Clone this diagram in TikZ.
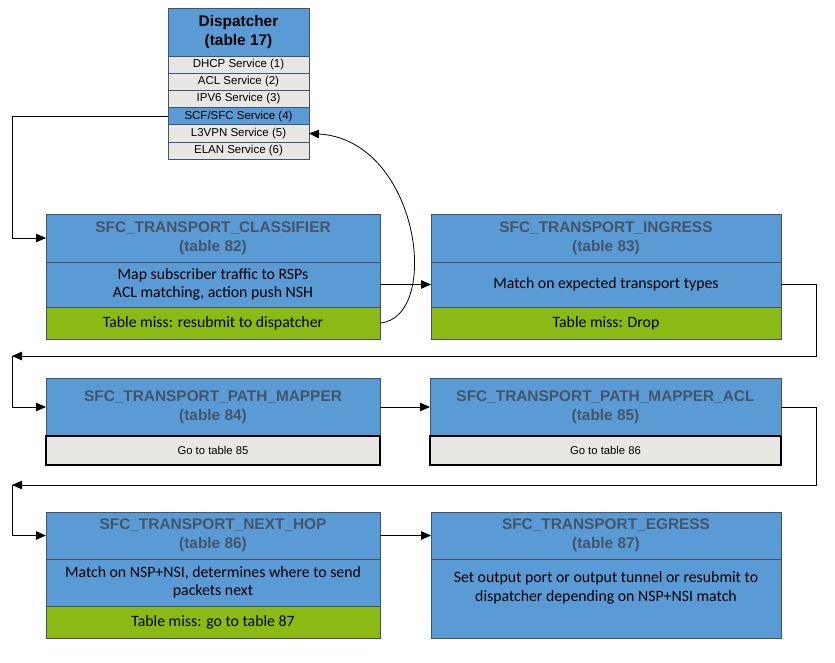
\documentclass[tikz,border=0pt]{standalone}
\usepackage{fontspec}
\setmainfont{Carlito}
\newfontfamily\arialfont{Liberation Sans}
\usetikzlibrary{positioning,arrows.meta}
\definecolor{tblblue}{HTML}{5B9BD5}
\definecolor{tbledge}{HTML}{41536B}
\definecolor{tbltitle}{HTML}{44546A}
\definecolor{tblgreen}{HTML}{8CBA15}
\definecolor{tblgray}{HTML}{E8E7E4}
\tikzset{
  part/.style={draw=tbledge, line width=1pt, inner sep=2pt, outer sep=0pt, align=center},
  hdr/.style={part, fill=tblblue, text=tbltitle, font=\arialfont\bfseries\fontsize{15.4}{19}\selectfont},
  act/.style={part, fill=tblblue, font=\fontsize{15.8}{18.5}\selectfont},
  miss/.style={part, fill=tblgreen, font=\fontsize{15.8}{18.5}\selectfont},
  goto/.style={part, draw=black, line width=1.5pt, fill=tblgray, font=\arialfont\fontsize{11.3}{13}\selectfont},
  svc/.style={part, fill=tblgray, minimum width=141, minimum height=17.2, font=\arialfont\fontsize{11.5}{13}\selectfont},
  flow/.style={line width=0.8pt, -{Triangle[length=10pt,width=8.5pt]}}
}
\begin{document}
\begin{tikzpicture}[x=1pt,y=-1pt]
    \useasboundingbox (0,0) rectangle (835,662);

    % dispatcher and its services
    \node[hdr, text=black, minimum width=141, minimum height=48, anchor=north west] (disp) at (168,8) {Dispatcher\\(table 17)};
    \node[svc, below=0pt of disp] (dhcp) {DHCP Service (1)};
    \node[svc, below=0pt of dhcp] (acl) {ACL Service (2)};
    \node[svc, below=0pt of acl] (ipv6) {IPV6 Service (3)};
    \node[svc, fill=tblblue, below=0pt of ipv6] (scf) {SCF/SFC Service (4)};
    \node[svc, below=0pt of scf] (l3vpn) {L3VPN Service (5)};
    \node[svc, below=0pt of l3vpn] (elan) {ELAN Service (6)};

    % first row
    \node[hdr, minimum width=334, minimum height=48, anchor=north west] (clsT) at (46,214) {SFC\_TRANSPORT\_CLASSIFIER\\(table 82)};
    \node[act, minimum width=334, minimum height=45, below=0pt of clsT] (clsM) {Map subscriber traffic to RSPs\\ACL matching, action push NSH};
    \node[miss, minimum width=334, minimum height=32, below=0pt of clsM] (clsX) {Table miss: resubmit to dispatcher};

    \node[hdr, minimum width=350, minimum height=48, anchor=north west] (ingT) at (431,214) {SFC\_TRANSPORT\_INGRESS\\(table 83)};
    \node[act, minimum width=350, minimum height=45, below=0pt of ingT] (ingM) {Match on expected transport types};
    \node[miss, minimum width=350, minimum height=32, below=0pt of ingM] (ingX) {Table miss: Drop};

    % second row
    \node[hdr, minimum width=334, minimum height=58, anchor=north west] (pmT) at (46,378) {SFC\_TRANSPORT\_PATH\_MAPPER\\(table 84)};
    \node[goto, minimum width=334, minimum height=29, below=0pt of pmT] (pmG) {Go to table 85};

    \node[hdr, minimum width=351, minimum height=58, anchor=north west] (pmaT) at (430,378) {SFC\_TRANSPORT\_PATH\_MAPPER\_ACL\\(table 85)};
    \node[goto, minimum width=351, minimum height=29, below=0pt of pmaT] (pmaG) {Go to table 86};

    % third row
    \node[hdr, minimum width=334, minimum height=47, anchor=north west] (nhT) at (46,512) {SFC\_TRANSPORT\_NEXT\_HOP\\(table 86)};
    \node[act, minimum width=334, minimum height=47, below=0pt of nhT] (nhM) {Match on NSP+NSI, determines where to send\\packets next};
    \node[miss, minimum width=334, minimum height=32, below=0pt of nhM] (nhX) {Table miss: go to table 87};

    \node[hdr, minimum width=350, minimum height=47, anchor=north west] (egT) at (431,512) {SFC\_TRANSPORT\_EGRESS\\(table 87)};
    \node[act, minimum width=350, minimum height=79, below=0pt of egT] (egM) {Set output port or output tunnel or resubmit to\\dispatcher depending on NSP+NSI match\\\strut};

    % return paths
    \coordinate (lft) at (12,0);
    \coordinate (ret1) at (816,356);
    \coordinate (ret1e) at (12,356);
    \coordinate (ret2) at (816,485);
    \coordinate (ret2e) at (12,485);

    \draw[flow] (scf.west) -- (scf.west -| lft) |- (clsT.west);
    \draw[flow] (clsM.east) -- (ingM.west);
    \draw[flow] (ingM.east) -| (ret1) -- (ret1e);
    \draw[flow] (ret1e) |- (pmT.west);
    \draw[flow] (pmT.east) -- (pmaT.west);
    \draw[flow] (pmaT.east) -| (ret2) -- (ret2e);
    \draw[flow] (ret2e) |- (nhT.west);
    \draw[flow] (nhT.east) -- (egT.west);
    \draw[flow] (clsX.east) .. controls (442,318) and (420,140) .. (l3vpn.east);
\end{tikzpicture}
\end{document}
